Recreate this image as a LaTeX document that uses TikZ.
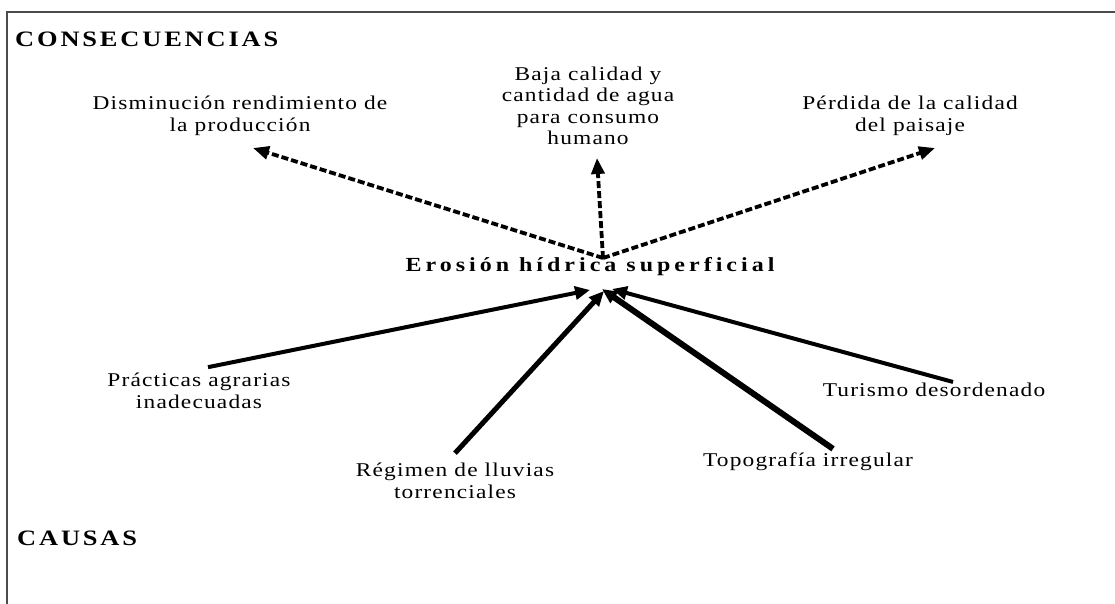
\documentclass[tikz,border=0pt]{standalone}
\usepackage{fontspec}
\setmainfont{Liberation Serif}
\newfontfamily\bodyfont[FakeStretch=1.2, LetterSpace=6]{Liberation Serif}
\newfontfamily\headfont[FakeStretch=1.2, LetterSpace=13]{Liberation Serif}
\newfontfamily\centralfont[FakeStretch=1.2, LetterSpace=20]{Liberation Serif}
\usetikzlibrary{arrows.meta, positioning}

\begin{document}
\begin{tikzpicture}[x=1pt, y=-1pt,
            title/.style={anchor=west, inner sep=0pt, font=\headfont\bfseries\fontsize{22}{25}\selectfont},
            central/.style={inner sep=0pt, font=\centralfont\bfseries\fontsize{20}{23}\selectfont},
            effect/.style={align=center, inner sep=0pt, font=\bodyfont\fontsize{19.5}{21.5}\selectfont},
            conseq/.style={line width=3.8pt, dash pattern=on 7pt off 3pt, -{Triangle[length=16pt,width=13pt]}},
            cause/.style={-{Triangle[length=15pt,width=13pt]}},
            frame/.style={draw=black!70, line width=2pt}
        ]

% Page and frame
            \fill[white] (0,0) rectangle (1115,604);
            \useasboundingbox (0,0) rectangle (1115,604);
            \draw[frame] (7,604) -- (7,12) -- (1115,12);

% Titles
            \node[title] (cons) at (15,39) {CONSECUENCIAS};
            \node[title] (causas) at (17,538) {CAUSAS};

% Central problem
            \node[central] (erosion) at (590,267) {Erosión hídrica superficial};
            \coordinate (hubtop) at (603,258);

% Consequences
            \node[effect] (dism) at (240,116) {Disminución rendimiento de\\la producción};
            \node[effect] (agua) at (588,106) {Baja calidad y\\cantidad de agua\\para consumo\\humano};
            \node[effect] (paisaje) at (910,116) {Pérdida de la calidad\\del paisaje};
            \coordinate (tipdism) at (253,148);
            \coordinate (tipagua) at (597,158);
            \coordinate (tippaisaje) at (935,148);

            \draw[conseq] (hubtop) -- (tipdism);
            \draw[conseq] (hubtop) -- (tipagua);
            \draw[conseq] (hubtop) -- (tippaisaje);

% Causes
            \node[effect] (practicas) at (199,391) {Prácticas agrarias\\inadecuadas};
            \node[effect] (regimen) at (455,481) {Régimen de lluvias\\torrenciales};
            \node[effect] (topo) at (808,462) {Topografía irregular};
            \node[effect] (turismo) at (934,390) {Turismo desordenado};

            \draw[cause, line width=4pt] ([shift={(9,-6)}]practicas.north) -- (590,290);
            \draw[cause, line width=5pt] ([shift={(0,-10)}]regimen.north) -- (604,291);
            \draw[cause, line width=6pt] ([shift={(25,-4)}]topo.north) -- (602,289);
            \draw[cause, line width=4pt] ([shift={(19,-1)}]turismo.north) -- (612,289);

        \end{tikzpicture}
\end{document}
